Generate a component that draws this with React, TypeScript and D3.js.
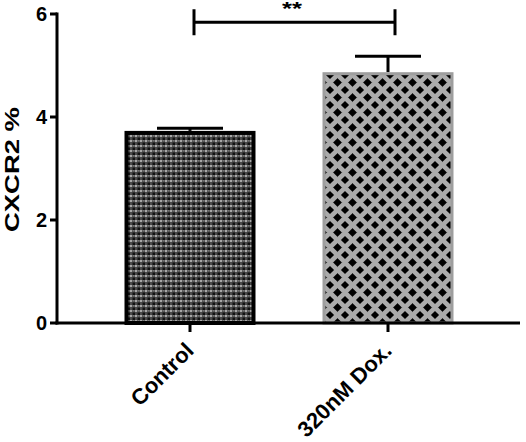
import React from "react";
import * as d3 from "d3";

const categories = ["Control", "320nM Dox."];
const means = [3.73, 4.87];
const errors = [0.05, 0.31];
const yTicks = [0, 2, 4, 6];
const yLabel = "CXCR2 %";
const sigLabel = "**";
const sigLevel = 5.84;

export default function App() {
  const W = 526, H = 442;
  const y = d3.scaleLinear().domain([0, 6]).range([323, 14]);
  const x = d3.scalePoint<string>().domain(categories).range([190, 388]);
  const barW = 131;
  const capW = 66;
  const font = "'Liberation Sans', Arial, sans-serif";
  const x0 = 57;
  const xEnd = 520;
  const sigY = y(sigLevel);
  const bx1 = x(categories[0])! + 4;
  const bx2 = x(categories[1])! + 7;
  return (
    <svg width={W} height={H} style={{ position: "absolute", left: 0, top: 0, background: "#fff" }} fontFamily={font}>
      <defs>
        <pattern id="pCtrl" width="5" height="5" patternUnits="userSpaceOnUse">
          <rect width="5" height="5" fill="#4a4a4a" />
          <rect x="0" y="0" width="2" height="2" fill="#a8a8a8" />
          <rect x="2.5" y="2.5" width="2.5" height="2.5" fill="#111" />
          <rect x="2.5" y="0" width="2" height="1.5" fill="#777" />
        </pattern>
        <pattern id="pDox" width="15" height="15" patternUnits="userSpaceOnUse">
          <rect width="15" height="15" fill="#ababab" />
          <path d="M7.5 3.4 L11.6 7.5 L7.5 11.6 L3.4 7.5 Z" fill="#000" stroke="#000" strokeWidth="0.6" strokeLinejoin="round" />
          <path d="M0 -4.1 L4.1 0 L0 4.1 L-4.1 0 Z" fill="#000" />
          <path d="M15 -4.1 L19.1 0 L15 4.1 L10.9 0 Z" fill="#000" />
          <path d="M0 10.9 L4.1 15 L0 19.1 L-4.1 15 Z" fill="#000" />
          <path d="M15 10.9 L19.1 15 L15 19.1 L10.9 15 Z" fill="#000" />
        </pattern>
      </defs>
      {/* error bars */}
      {categories.map((c, i) => (
        <g key={"e" + c} stroke="#000" strokeWidth={3}>
          <line x1={x(c)} x2={x(c)} y1={y(means[i])} y2={y(means[i] + errors[i])} />
          <line x1={x(c)! - capW / 2} x2={x(c)! + capW / 2} y1={y(means[i] + errors[i])} y2={y(means[i] + errors[i])} />
        </g>
      ))}
      {/* bars */}
      {categories.map((c, i) => {
        const sw = i === 0 ? 4 : 3;
        return (
          <rect
            key={"b" + c}
            x={x(c)! - barW / 2 + sw / 2}
            y={y(means[i]) + sw / 2}
            width={barW - sw}
            height={y(0) - y(means[i]) - sw / 2}
            fill={i === 0 ? "url(#pCtrl)" : "url(#pDox)"}
            stroke={i === 0 ? "#000" : "#9e9e9e"}
            strokeWidth={sw}
          />
        );
      })}
      {/* axes */}
      <line x1={x0} x2={x0} y1={y(6) - 1.5} y2={y(0) + 1.5} stroke="#000" strokeWidth={3} />
      <line x1={x0 - 1.5} x2={xEnd} y1={y(0)} y2={y(0)} stroke="#000" strokeWidth={3} />
      {yTicks.map((t) => (
        <g key={"yt" + t}>
          <line x1={x0 - 7} x2={x0} y1={y(t)} y2={y(t)} stroke="#000" strokeWidth={3} />
          <text x={x0 - 10} y={y(t)} dy="0.36em" textAnchor="end" fontSize={20} fontWeight="bold">{t}</text>
        </g>
      ))}
      {categories.map((c) => (
        <g key={"xt" + c}>
          <line x1={x(c)} x2={x(c)} y1={y(0)} y2={y(0) + 9} stroke="#000" strokeWidth={3} />
          <text
            transform={`translate(${x(c)! + 5},${y(0) + 29}) rotate(-45)`}
            textAnchor="end"
            fontSize={22}
            fontWeight="bold"
          >
            {c}
          </text>
        </g>
      ))}
      <text
        transform={`translate(19,${(y(0) + y(6)) / 2 + 1}) rotate(-90)`}
        textAnchor="middle"
        fontSize={21}
        fontWeight="bold"
        textLength={125}
        lengthAdjust="spacingAndGlyphs"
      >
        {yLabel}
      </text>
      {/* significance bracket */}
      <g stroke="#000" strokeWidth={3}>
        <line x1={bx1} x2={bx2} y1={sigY} y2={sigY} />
        <line x1={bx1} x2={bx1} y1={sigY - 13} y2={sigY + 13} />
        <line x1={bx2} x2={bx2} y1={sigY - 13} y2={sigY + 13} />
      </g>
      <text x={292} y={y(5.98)} textAnchor="middle" fontSize={18} fontWeight="bold" textLength={20} lengthAdjust="spacingAndGlyphs">
        {sigLabel}
      </text>
    </svg>
  );
}
